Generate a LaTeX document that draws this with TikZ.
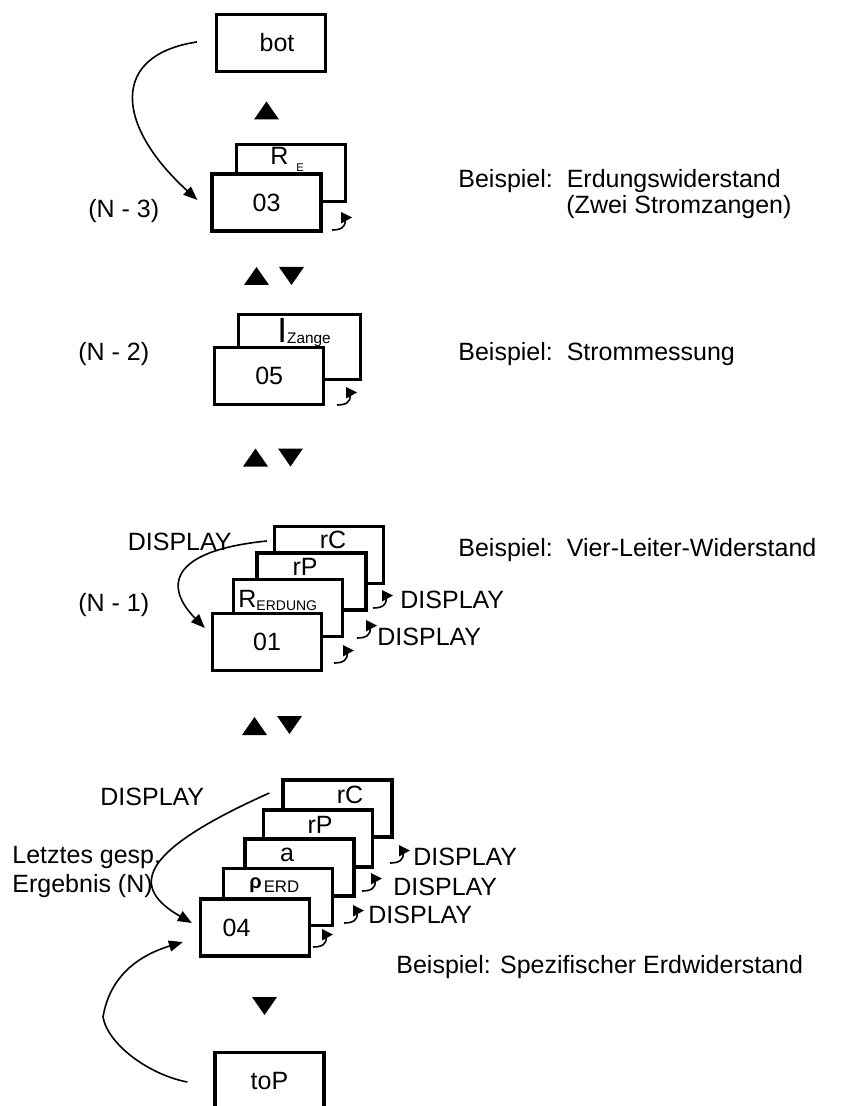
\documentclass[tikz,border=0pt]{standalone}
\usepackage{fontspec}
\setmainfont{Liberation Sans}
\usetikzlibrary{arrows.meta}

\begin{document}
\begin{tikzpicture}[x=0.5pt,y=-0.5pt,>={Triangle[length=7pt,width=5.5pt]},
  every node/.style={font=\fontsize{12.5}{15}\selectfont},
  card/.style={draw,fill=white,line width=1.6pt,minimum width=54.5pt,minimum height=28.5pt,inner sep=0pt},
  bigcard/.style={card,minimum width=61pt,minimum height=32.5pt},
  txt/.style={inner sep=0pt,anchor=base west},
  link/.style={->,line width=0.8pt},
  hook/.pic={\draw[line width=0.8pt] (0,0) .. controls (9,0) and (14,-3) .. (13,-10);
    \fill (9,-18) -- (20,-12.5) -- (9,-6.5) -- cycle;},
  uptri/.pic={\fill (-12.5,9) -- (12.5,9) -- (0,-9) -- cycle;},
  dntri/.pic={\fill (-12.5,-9) -- (12.5,-9) -- (0,9) -- cycle;}]
\useasboundingbox (0,0) rectangle (840,1106);

% bot and (N-3)
\node[card] (bot) at (271,43) {\hspace*{6pt}bot};
\pic at (266.5,110.5) {uptri};
\node[card] (re) at (291,173) {};
\node[txt] (reT) at (270,165) {R\hspace{4pt}\raisebox{-3.5pt}{\fontsize{5.6}{6}\selectfont E}};
\node[card] (n03) at (266.5,202.5) {03};
\pic at (332,230) {hook};
\node[txt] (lbl3) at (88,218) {(N - 3)};
\node[txt] (ex3) at (458,188) {Beispiel:\ \ Erdungswiderstand};
\node[txt] (ex3b) at (566,214) {(Zwei Stromzangen)};
\draw[link] ([xshift=-9pt,yshift=0.5pt]bot.west) .. controls (110,55) and (115,125) .. ([xshift=-6.5pt,yshift=1.25pt]n03.west);
\pic at (256.5,276) {uptri}; \pic at (291.5,276) {dntri};

% (N-2)
\node[bigcard] (iz) at (299.2,347) {};
\node[txt] (izT) at (277,343) {{\fontsize{17.5}{18}\selectfont I}\raisebox{-0.5pt}{\fontsize{7.7}{8}\selectfont Zange}};
\node[card] (n05) at (269.2,376) {05};
\pic at (337,405) {hook};
\node[txt] (lbl2) at (78,361) {(N - 2)};
\node[txt] (ex2) at (458,361) {Beispiel:\ \ Strommessung};
\pic at (255.5,457.5) {uptri}; \pic at (290.5,457.5) {dntri};

% (N-1)
\node[card] (rca) at (329,555) {};
\node[txt,anchor=base] (rcaT) at (333,548) {rC};
\node[card] (rpa) at (311.5,581.5) {};
\node[txt,anchor=base] (rpaT) at (305,575) {rP};
\node[card] (rerd) at (288,608) {};
\node[txt] (rerdT) at (238,607) {R\raisebox{-1.5pt}{\fontsize{7}{8}\selectfont ERDUNG}};
\node[card] (n01) at (267,642) {01};
\pic at (373,608) {hook}; \pic at (357,638) {hook}; \pic at (334,663) {hook};
\node[txt] (d1a) at (400,608) {DISPLAY};
\node[txt] (d1b) at (377,645) {DISPLAY};
\node[txt,anchor=base east] (d1) at (232,550) {DISPLAY};
\node[txt] (lbl1) at (78,611) {(N - 1)};
\node[txt] (ex1) at (458,556) {Beispiel:\ \ Vier-Leiter-Widerstand};
\draw[link] ([xshift=-3pt,yshift=7pt]rca.west) .. controls (167,551) and (165,588) .. ([xshift=-3pt,yshift=7pt]n01.west);
\pic at (254.5,726) {uptri}; \pic at (289.5,725) {dntri};

% (N), last stored result
\node[card] (rcb) at (337.5,808.5) {};
\node[txt,anchor=base] (rcbT) at (350,803) {rC};
\node[card] (rpb) at (318,838.5) {};
\node[txt,anchor=base] (rpbT) at (320,833) {rP};
\node[card] (ab) at (299.5,867.5) {};
\node[txt,anchor=base] (abT) at (287,861) {a};
\node[card] (rho) at (278,897) {};
\node[txt] (rhoT) at (249,888) {{\fontsize{10}{10}\selectfont\bfseries ρ}\hspace{1pt}\raisebox{-2pt}{\fontsize{8.4}{9}\selectfont ERD}};
\node[card] (n04) at (255,927.5) {04\hspace*{18.5pt}};
\pic at (390,863) {hook}; \pic at (362,891) {hook}; \pic at (344,923) {hook}; \pic at (313,947) {hook};
\node[txt] (d4a) at (413,865) {DISPLAY};
\node[txt] (d4b) at (393,895) {DISPLAY};
\node[txt] (d4c) at (368,923) {DISPLAY};
\node[txt] (d4) at (100,805) {DISPLAY};
\node[txt] (last1) at (12,863) {Letztes gesp.};
\node[txt] (last2) at (12,892) {Ergebnis (N)};
\node[txt] (ex0) at (396,973) {Beispiel: Spezifischer Erdwiderstand};
\draw[link] ([xshift=-6pt,yshift=7.75pt]rcb.west) .. controls (135,853) and (131,888) .. ([xshift=-3.5pt,yshift=2.25pt]n04.west);
\pic at (264.5,1006) {dntri};

% toP
\node[card] (top) at (269.5,1081) {toP};
\draw[link] ([xshift=-13pt,yshift=-0.5pt]top.west) .. controls (150,1075) and (108,1045) .. (103,1017) .. controls (110,975) and (140,955) .. ([xshift=-8pt,yshift=-7.25pt]n04.west);
\end{tikzpicture}
\end{document}
